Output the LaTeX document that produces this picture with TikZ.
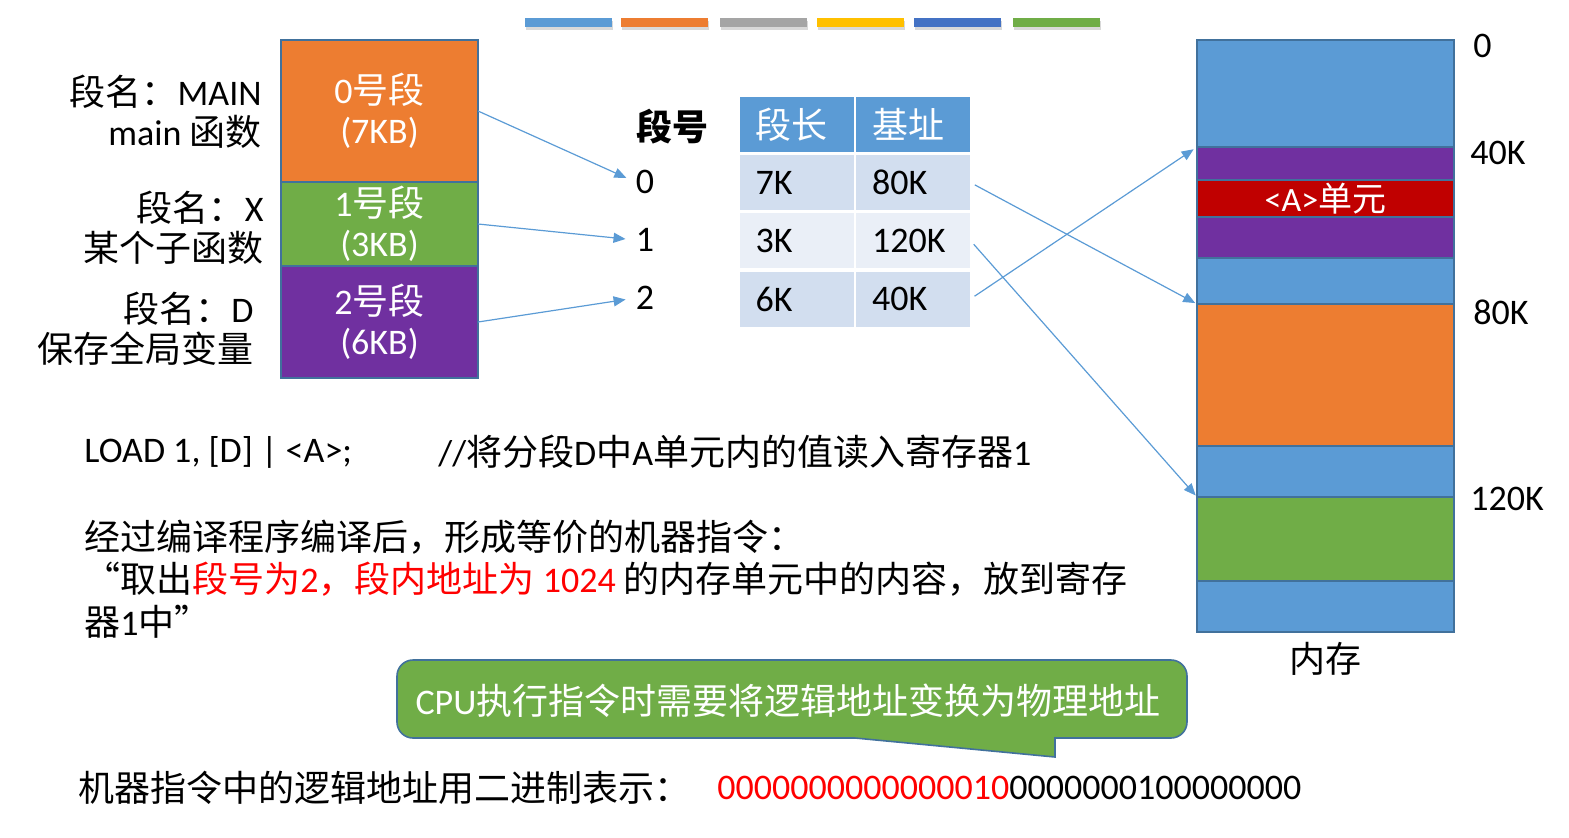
\documentclass[tikz,border=0pt]{standalone}
\usepackage{fontspec}
\setmainfont{Carlito}
\newfontfamily\cjk{Noto Sans CJK SC}
\newcommand{\zh}[1]{{\cjk #1}}
\usetikzlibrary{arrows.meta}
\usetikzlibrary{positioning}
\usetikzlibrary{shadows}
\definecolor{offblue}{HTML}{5B9BD5}
\definecolor{offorange}{HTML}{ED7D31}
\definecolor{offgray}{HTML}{A5A5A5}
\definecolor{offgold}{HTML}{FFC000}
\definecolor{offdarkblue}{HTML}{4472C4}
\definecolor{offgreen}{HTML}{70AD47}
\definecolor{offpurple}{HTML}{7030A0}
\definecolor{offred}{HTML}{C00000}
\definecolor{outline}{HTML}{41719C}
\definecolor{rowdark}{HTML}{D2DEEF}
\definecolor{rowlight}{HTML}{EAEFF7}

\begin{document}
\begin{tikzpicture}[x=0.5pt,y=-0.5pt]
	\tikzset{txt/.style = {inner sep=0pt, font=\fontsize{18}{20}\selectfont}}
	\tikzset{lbl/.style = {txt, anchor=west}}
	\tikzset{segbox/.style = {shape=rectangle, draw=outline, line width=0.8pt, 
			outer sep=0pt, inner sep=0pt, minimum width=98.5pt, text=white, 
			align=center, font=\fontsize{18}{20}\selectfont}}
	\tikzset{cell/.style = {shape=rectangle, minimum height=27.5pt, text width=41pt, 
			inner xsep=8pt, inner ysep=0pt, align=left, font=\fontsize{18}{20}\selectfont}}
	\tikzset{memblock/.style = {shape=rectangle, draw=outline, line width=0.8pt, 
			outer sep=0pt, inner sep=0pt, minimum width=128.5pt}}
	\tikzset{edge/.style = {-{Triangle[length=6pt,width=5pt]}, draw=offblue, line width=0.6pt}}
	\tikzset{bar/.style = {drop shadow={shadow xshift=0.5pt, shadow yshift=-1.5pt, opacity=0.3}}}
	
	\useasboundingbox (0,0) rectangle (1569,837);
	
	% colour bars
	\fill[bar, offblue] (525,18) rectangle (612,27);
	\fill[bar, offorange] (621,18) rectangle (708,27);
	\fill[bar, offgray] (720,18) rectangle (807,27);
	\fill[bar, offgold] (817,18) rectangle (904,27);
	\fill[bar, offdarkblue] (914,18) rectangle (1001,27);
	\fill[bar, offgreen] (1013,18) rectangle (1100,27);
	
	% segments of the program
	\node[segbox, fill=offorange, minimum height=71pt] (seg0) at (379.5,111) {0\zh{号段}\\(7KB)};
	\node[segbox, fill=offgreen, minimum height=42pt, below=0pt of seg0] (seg1) {1\zh{号段}\\(3KB)};
	\node[segbox, fill=offpurple, minimum height=56pt, below=0pt of seg1] (seg2) {2\zh{号段}\\(6KB)};
	
	\node[txt, anchor=east, align=right] (name0) at (262,112) {\zh{段名：}MAIN\\main \zh{函数}};
	\node[txt, anchor=east, align=right] (name1) at (264,228) {\zh{段名：}X\\\zh{某个子函数}};
	\node[txt, anchor=east, align=right] (name2) at (254,329) {\zh{段名：}D\\\zh{保存全局变量}};
	
	% segment table
	\node[txt, font=\fontsize{18}{20}\selectfont\bfseries] (segno) at (672,127) {\zh{段号}};
	\node[txt] (n0) at (645,182) {0};
	\node[txt] (n1) at (645,240) {1};
	\node[txt] (n2) at (645,298) {2};
	
	\node[cell, fill=offblue, text=white] (hlen) at (796.5,124.5) {\zh{段长}};
	\node[cell, fill=offblue, text=white] (hbase) at (913,124.5) {\zh{基址}};
	\node[cell, fill=rowdark] (l0) at (796.5,182.5) {7K};
	\node[cell, fill=rowdark] (b0) at (913,182.5) {80K};
	\node[cell, fill=rowlight] (l1) at (796.5,240.5) {3K};
	\node[cell, fill=rowlight] (b1) at (913,240.5) {120K};
	\node[cell, fill=rowdark] (l2) at (796.5,299) {6K};
	\node[cell, fill=rowdark] (b2) at (913,299) {40K};
	
	% memory
	\node[memblock, fill=offblue, minimum height=53.5pt] (mtop) at (1325.5,93.5) {};
	\node[memblock, fill=offpurple, minimum height=16.5pt, below=0pt of mtop] (mpa) {};
	\node[memblock, fill=offred, minimum height=18.5pt, below=0pt of mpa, text=white, 
			font=\fontsize{17}{18}\selectfont] (ma) {<A>\zh{单元}};
	\node[memblock, fill=offpurple, minimum height=20.5pt, below=0pt of ma] (mpb) {};
	\node[memblock, fill=offblue, minimum height=23pt, below=0pt of mpb] (mb1) {};
	\node[memblock, fill=offorange, minimum height=71pt, below=0pt of mb1] (mor) {};
	\node[memblock, fill=offblue, minimum height=25.5pt, below=0pt of mor] (mb2) {};
	\node[memblock, fill=offgreen, minimum height=42pt, below=0pt of mb2] (mgr) {};
	\node[memblock, fill=offblue, minimum height=25.5pt, below=0pt of mgr] (mb3) {};
	\node[txt, below=5pt of mb3] (memname) {\zh{内存}};
	
	\node[lbl] (a0) at (1473,46) {0};
	\node[lbl] (a40) at (1470,153) {40K};
	\node[lbl] (a80) at (1473,312) {80K};
	\node[lbl] (a120) at (1470,499) {120K};
	
	%edges
	\draw[edge, shorten >=5pt] (seg0.east) to (n0.west);
	\draw[edge, shorten >=5pt] (seg1.east) to (n1.west);
	\draw[edge, shorten >=5pt] (seg2.east) to (n2.west);
	\draw[edge, shorten <=2.5pt, shorten >=1pt] (b0.east) to (mor.north west);
	\draw[edge, shorten <=2.5pt, shorten >=1pt] (b1.east) to (mgr.north west);
	\draw[edge, shorten <=2.5pt, shorten >=2pt] (b2.east) to (mpa.north west);
	
	% instruction text
	\node[lbl] (load) at (84,452) {LOAD 1, [D] | <A>;};
	\node[lbl] (note) at (438,452) {//\zh{将分段}D\zh{中}A\zh{单元内的值读入寄存器}1};
	\node[lbl] (comp) at (84,537) {\zh{经过编译程序编译后，形成等价的机器指令：}};
	\node[lbl] (instr) at (84,579) {\zh{“取出}\textcolor{red}{\zh{段号为}2\zh{，段内地址为} 1024} \zh{的内存单元中的内容，放到寄存}};
	\node[lbl] (instr2) at (84,622) {\zh{器}1\zh{中”}};
	
	% callout
	\draw[fill=offgreen, draw=outline, line width=0.8pt] (1055,757) -- (855,738) 
		[rounded corners=8pt] -- (397,738) -- (397,660) -- (1187,660) -- (1187,738) 
		[sharp corners] -- (1055,738) -- cycle;
	\node[txt, text=white, font=\fontsize{18}{20}\selectfont] (cpu) at (788,701) 
		{CPU\zh{执行指令时需要将逻辑地址变换为物理地址}};
	
	% binary address
	\node[lbl] (binlbl) at (78,788) {\zh{机器指令中的逻辑地址用二进制表示：}};
	\node[lbl] (bin) at (717,788) {\textcolor{red}{0000000000000010}0000000100000000};
	
\end{tikzpicture}
\end{document}
